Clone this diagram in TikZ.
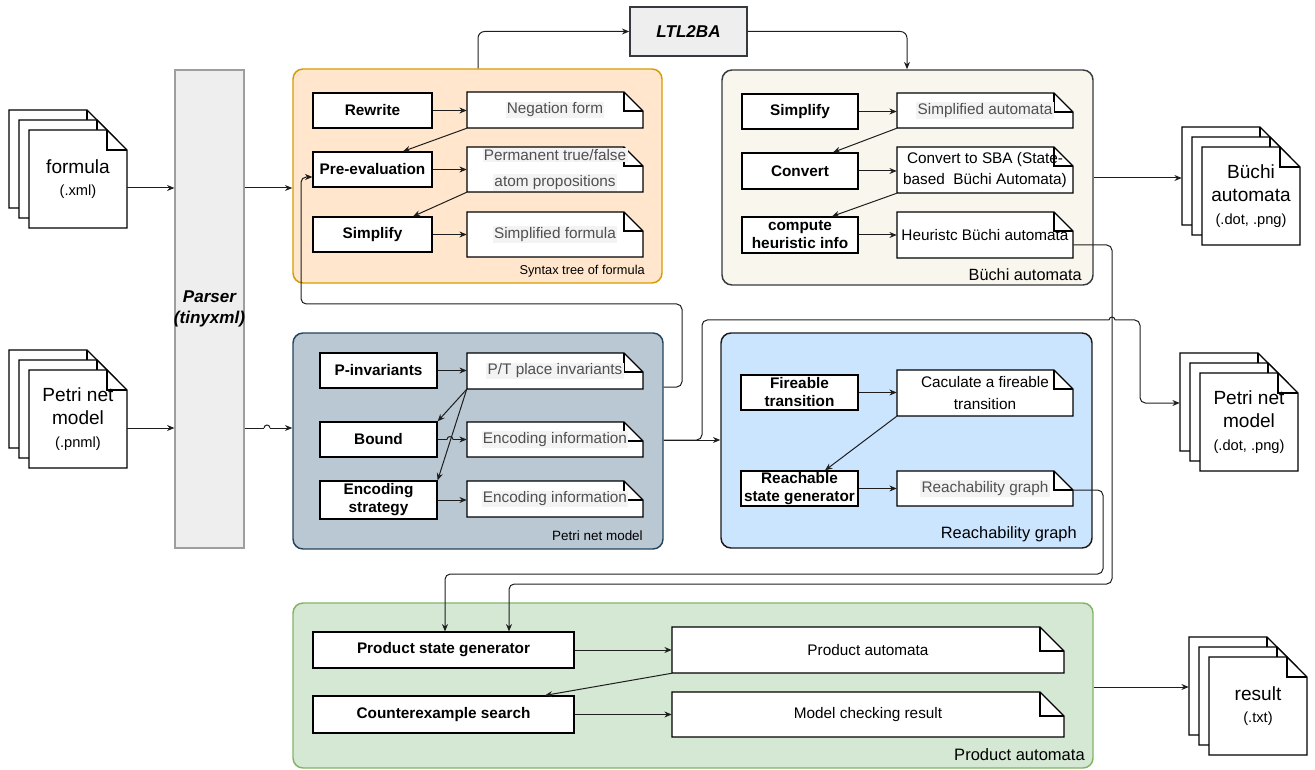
\documentclass[tikz,border=0pt]{standalone}
\usepackage{fontspec}
\setmainfont{Liberation Sans}
\usetikzlibrary{fit,arrows.meta}
\definecolor{synfill}{HTML}{FFE6CC}\definecolor{synline}{HTML}{D79B00}
\definecolor{bufill}{HTML}{F9F7ED}\definecolor{buline}{HTML}{36393D}
\definecolor{pnfill}{HTML}{BAC8D3}\definecolor{pnline}{HTML}{23445D}
\definecolor{rgfill}{HTML}{CCE5FF}\definecolor{rgline}{HTML}{1A1A1A}
\definecolor{prfill}{HTML}{D5E8D4}\definecolor{prline}{HTML}{82B366}
\definecolor{gryfill}{HTML}{EEEEEE}\definecolor{gryline}{HTML}{9E9E9E}
\definecolor{ntgray}{HTML}{505050}\definecolor{hlcol}{HTML}{F3F3F3}
\definecolor{edgecol}{HTML}{1E1E1E}
\newcommand\hlt[1]{{\setlength{\fboxsep}{1pt}\colorbox{hlcol}{#1}}}
\tikzset{
 cont/.style={rounded corners=7.5pt, line width=1.1pt, inner sep=0pt, rectangle},
 pboxs/.style={draw=black, fill=white, line width=0.9pt, inner sep=0pt, rectangle},
 btxt/.style={font=\fontsize{11.5}{13.5}\selectfont\bfseries, align=center, inner sep=0pt},
 ntxt/.style={font=\fontsize{11.5}{15.8}\selectfont, align=center, inner sep=0pt},
 noteline/.style={draw=black, fill=white, line width=0.9pt},
 docline/.style={draw=black, fill=white, line width=1pt},
 dtxt/.style={font=\fontsize{14.3}{17}\selectfont, align=center, inner sep=0pt},
 arr/.style={draw=edgecol, -{Stealth[length=5.5pt,width=4.5pt]}, line width=0.75pt},
 lnk/.style={draw=edgecol, line width=0.75pt, rounded corners=4pt},
 clabel/.style={anchor=east, inner sep=0pt},
}
\newcommand\pbox[6]{\node[pboxs, fit={(#2,#3)(#4,#5)}] (#1) {};\node[btxt] at (#1.center) {#6};}
\newcommand\nbox[8]{%
 \path[noteline] (#2,#3) -- ({#4-#6},#3) -- (#4,{#3+#6}) -- (#4,#5) -- (#2,#5) -- cycle;
 \path[noteline, fill=none] ({#4-#6},#3) -- ({#4-#6},{#3+#6}) -- (#4,{#3+#6});
 \node[fit={(#2,#3)(#4,#5)}, inner sep=0pt] (#1) {};
 \node[ntxt,#7] at (#1.center) {#8};}
\newcommand\onepage[2]{%
 \path[docline] ({#1},{#2}) -- ({#1+78},{#2}) -- ({#1+98},{#2+20}) -- ({#1+98},{#2+98}) -- ({#1},{#2+98}) -- cycle;
 \path[docline, fill=none] ({#1+78},{#2}) -- ({#1+78},{#2+20}) -- ({#1+98},{#2+20});}
\newcommand\docstack[5]{%
 \onepage{#2}{#3}\onepage{#2+10}{#3+10}\onepage{#2+20}{#3+20}%
 \node[fit={({#2},{#3})({#2+98},{#3+98})}, inner sep=0pt] (#1b) {};
 \node[fit={({#2+20},{#3+20})({#2+118},{#3+118})}, inner sep=0pt] (#1) {};
 \node[dtxt] at (#1.center) {#4\\{\fontsize{11}{13}\selectfont #5}};}
\begin{document}
\begin{tikzpicture}[x=0.75pt,y=-0.75pt]
\useasboundingbox (0,0) rectangle (1315,770);
% helper coordinates
\foreach \v in {188,428,177,387,440,403,178,245,490,687,33}{\coordinate (h\v) at (0,\v);}
\foreach \v in {403,413,833,832,825,545,509,445,478,907}{\coordinate (v\v) at (\v,0);}

% input documents
\docstack{fdoc}{9}{110}{formula}{(.xml)}
\docstack{pdoc}{9}{350}{Petri net\\model}{(.pnml)}
% output documents
\docstack{bdoc}{1182}{127}{Büchi\\automata}{(.dot, .png)}
\docstack{podoc}{1180}{353}{Petri net\\model}{(.dot, .png)}
\docstack{rdoc}{1189}{637}{result}{(.txt)}

% parser
\node[fit={(175,70)(244,548)}, draw=gryline, fill=gryfill, line width=0.9pt, inner sep=0pt] (parser) {};
\node[font=\fontsize{12.8}{15.5}\selectfont\bfseries\itshape, align=center, inner sep=0pt] at (parser.center) {Parser\\(tinyxml)};
% LTL2BA
\node[fit={(630,7)(747,56)}, draw=buline, fill=gryfill, line width=1.1pt, inner sep=0pt] (ltl) {};
\node[font=\fontsize{12.8}{15}\selectfont\bfseries\itshape, inner sep=0pt] at (ltl.center) {LTL2BA};

% containers
\node[cont, draw=synline, fill=synfill, fit={(293,69)(662,283)}] (syn) {};
\node[cont, draw=buline, fill=bufill, fit={(722,70)(1093,285)}] (buchi) {};
\node[cont, draw=pnline, fill=pnfill, fit={(293,333)(663,549)}] (pn) {};
\node[cont, draw=rgline, fill=rgfill, fit={(721,333)(1092,548)}] (reach) {};
\node[cont, draw=prline, fill=prfill, fit={(293,603)(1093,768)}] (prod) {};
\node[clabel, font=\fontsize{9.6}{11}\selectfont] at (645,271) {Syntax tree of formula};
\node[clabel, font=\fontsize{12.2}{14}\selectfont] at (1082,275) {Büchi automata};
\node[clabel, font=\fontsize{10.1}{12}\selectfont] at (643,536) {Petri net model};
\node[clabel, font=\fontsize{12.3}{14}\selectfont] at (1077,534) {Reachability graph};
\node[clabel, font=\fontsize{12.4}{14}\selectfont] at (1085,755) {Product automata};

% syntax tree of formula
\pbox{rw}{313}{93}{432}{128}{Rewrite}
\pbox{pre}{313}{152}{432}{187}{Pre-evaluation}
\pbox{simp}{313}{217}{432}{252}{Simplify}
\nbox{neg}{467}{92}{643}{128}{19}{text=ntgray}{\hlt{Negation form}}
\nbox{perm}{467}{147}{643}{192}{19}{text=ntgray, font=\fontsize{11.5}{19.5}\selectfont}{\hlt{Permanent true/false}\\\hlt{atom propositions}}
\nbox{sform}{467}{212}{643}{257}{19}{text=ntgray}{\hlt{Simplified formula}}

% Buchi automata
\pbox{bsimp}{742}{94}{858}{129}{Simplify}
\pbox{bconv}{742}{153}{858}{189}{Convert}
\pbox{bcomp}{742}{217}{858}{253}{compute\\heuristic info}
\nbox{bsa}{897}{93}{1073}{128}{19}{text=ntgray}{\hlt{Simplified automata}}
\nbox{sba}{897}{147}{1073}{193}{19}{}{Convert to SBA (State-\\based~~Büchi Automata)}
\nbox{heur}{897}{212}{1073}{258}{19}{}{Heuristc Büchi automata}

% Petri net model
\pbox{pinv}{320}{353}{437}{388}{P-invariants}
\pbox{bound}{320}{422}{437}{457}{Bound}
\pbox{encs}{320}{481}{437}{519}{Encoding\\strategy}
\nbox{ptn}{467}{353}{643}{389}{19}{text=ntgray}{\hlt{P/T place invariants}}
\nbox{enc1}{467}{422}{643}{457}{19}{text=ntgray}{\hlt{Encoding information}}
\nbox{enc2}{467}{481}{643}{517}{19}{text=ntgray}{\hlt{Encoding information}}

% Reachability graph
\pbox{fire}{741}{375}{858}{410}{Fireable\\transition}
\pbox{rsg}{741}{471}{858}{506}{Reachable\\state generator}
\nbox{calc}{897}{370}{1073}{416}{19}{}{Caculate a fireable\\transition}
\nbox{rgn}{897}{471}{1073}{506}{19}{text=ntgray}{\hlt{Reachability graph}}

% Product automata
\pbox{psg}{313}{632}{574}{668}{Product state generator}
\pbox{cs}{313}{696}{574}{733}{Counterexample search}
\nbox{pan}{672}{627}{1064}{673}{24}{}{Product automata}
\nbox{mcr}{672}{692}{1064}{737}{24}{}{Model checking result}

% internal arrows
\draw[arr] (rw.east) -- (neg.west |- rw.east);
\draw[arr] (neg.south west) -- (pre.north -| v403);
\draw[arr] (pre.east) -- (perm.west |- pre.east);
\draw[arr] (perm.south west) -- (simp.north -| v413);
\draw[arr] (simp.east) -- (sform.west |- simp.east);
\draw[arr] (bsimp.east) -- (bsa.west |- bsimp.east);
\draw[arr] (bsa.south west) -- (bconv.north -| v833);
\draw[arr] (bconv.east) -- (sba.west |- bconv.east);
\draw[arr] (sba.south west) -- (bcomp.north -| v832);
\draw[arr] (bcomp.east) -- (heur.west |- bcomp.east);
\draw[arr] (fire.east) -- (calc.west |- fire.east);
\draw[arr] (calc.south west) -- (rsg.north -| v825);
\draw[arr] (rsg.east) -- (rgn.west |- rsg.east);
\draw[arr] (pinv.east) -- (ptn.west |- pinv.east);
\draw[arr] (ptn.south west) -- (bound.north east);
\draw[arr] (ptn.south west) -- (encs.north east);
\coordinate (j1) at (447,439.5);\coordinate (j2) at (453,439.5);
\draw[lnk] (bound.east) -- (j1);
\draw[draw=edgecol, line width=0.75pt] (j1) arc[start angle=180, end angle=360, radius=3];
\draw[arr] (j2) -- (enc1.west |- j2);
\draw[arr] (encs.east) -- (enc2.west |- encs.east);
\draw[arr] (psg.east) -- (pan.west |- psg.east);
\draw[arr] (pan.south west) -- (cs.north -| v545);
\draw[arr] (cs.east) -- (mcr.west |- cs.east);

% inputs and parser
\draw[arr] (fdoc.east |- h188) -- (parser.west |- h188);
\draw[arr] (pdoc.east |- h428) -- (parser.west |- h428);
\draw[arr] (parser.east |- h188) -- (syn.west |- h188);
\coordinate (j3) at (264,428);\coordinate (j4) at (270,428);
\draw[lnk] (parser.east |- h428) -- (j3);
\draw[draw=edgecol, line width=0.75pt] (j3) arc[start angle=180, end angle=360, radius=3];
\draw[arr] (j4) -- (pn.west |- h428);

% LTL2BA
\draw[arr, rounded corners=5pt] (syn.north -| v478) |- (ltl.west);
\draw[arr, rounded corners=5pt] (ltl.east) -| (buchi.north -| v907);

% outputs
\draw[arr] (buchi.east |- h178) -- (bdocb.west |- h178);
\draw[arr] (prod.east |- h687) -- (rdocb.west |- h687);
\draw[arr] (pn.east |- h440) -- (reach.west |- h440);
\coordinate (j5) at (1109,320);\coordinate (j6) at (1115,320);
\draw[lnk] (pn.east |- h440) -- (702,440) -- (702,320) -- (j5);
\draw[draw=edgecol, line width=0.75pt] (j5) arc[start angle=180, end angle=360, radius=3];
\draw[arr, rounded corners=4pt] (j6) -- (1140,320) -- (1140,403) -- (podocb.west |- h403);
% feedback to pre-evaluation
\draw[arr, rounded corners=4pt] (pn.east |- h387) -- (682,387) -- (682,304) -- (301,304) -- (301,177) -- (pre.west |- h177);
% to product state generator
\draw[arr, rounded corners=4pt] (heur.east |- h245) -- (1112,245) -- (1112,584) -- (509,584) -- (psg.north -| v509);
\draw[arr, rounded corners=4pt] (rgn.east |- h490) -- (1103,490) -- (1103,574) -- (445,574) -- (psg.north -| v445);
\end{tikzpicture}
\end{document}
